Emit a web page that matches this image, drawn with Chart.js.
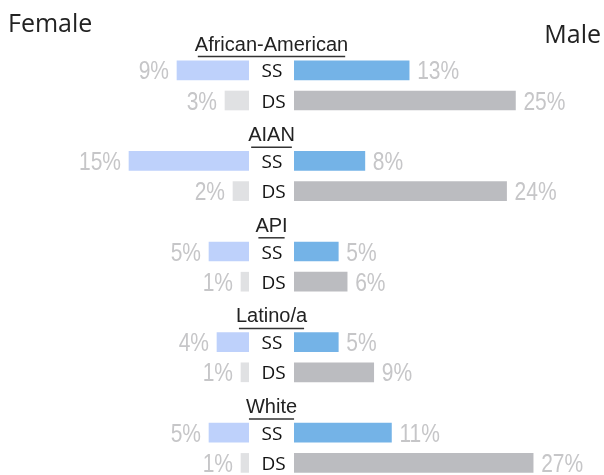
<!DOCTYPE html>
<html>
<head>
<meta charset="utf-8">
<script src="https://cdn.jsdelivr.net/npm/chart.js@4"></script>
<style>
  html, body { margin: 0; padding: 0; background: #fff; overflow: hidden; }
  #chart { display: block; }
</style>
</head>
<body>
<canvas id="chart" width="604" height="478"></canvas>
<script>
// groups and values (percent)
const groups = ["African-American", "AIAN", "API", "Latino/a", "White"];
const rowTypes = ["SS", "DS"];
const femaleSS = [9, 15, 5, 4, 5];
const femaleDS = [3, 2, 1, 1, 1];
const maleSS = [13, 8, 5, 5, 11];
const maleDS = [25, 24, 6, 9, 27];

// each group = title row + SS row + DS row
const labels = [];
groups.forEach((g) => {
  labels.push(g);
  rowTypes.forEach((t) => labels.push(g + " " + t));
});

function spread(values, rowIndex) {
  // put value of each group in its SS (1) or DS (2) row, null elsewhere
  const out = [];
  values.forEach((v) => {
    for (let k = 0; k < 3; k++) out.push(k === rowIndex ? v : null);
  });
  return out;
}

// condensed look for the % labels (no narrow font installed)
function narrowText(ctx, text, x, y, align) {
  ctx.save();
  ctx.translate(x, y);
  ctx.scale(0.84, 1);
  ctx.textAlign = align;
  ctx.fillText(text, 0, 0);
  ctx.restore();
}

const sidePlugin = {
  id: "sideLabels",
  afterDatasetsDraw(chart) {
    const ctx = chart.ctx;
    const y = chart.scales.y;
    const gap = chart.scales.xGap;
    const mid = gap.left + gap.width / 2;
    ctx.save();

    // Female / Male headers
    ctx.fillStyle = "#222";
    ctx.font = "25px 'Open Sans', sans-serif";
    ctx.textAlign = "left";
    ctx.textBaseline = "alphabetic";
    ctx.fillText("Female", 8, 32);
    ctx.textAlign = "right";
    ctx.fillText("Male", chart.width - 3, 43);

    // group titles with underline
    ctx.font = "20px 'Liberation Sans', Arial, sans-serif";
    ctx.textAlign = "center";
    groups.forEach((g, i) => {
      const cy = y.getPixelForValue(i * 3);
      const base = cy + 10.5;
      ctx.fillStyle = "#222";
      ctx.fillText(g, mid, base);
      const w = ctx.measureText(g).width;
      ctx.strokeStyle = "#333";
      ctx.lineWidth = 1.5;
      ctx.beginPath();
      ctx.moveTo(mid - w / 2 + 3, base + 6);
      ctx.lineTo(mid + w / 2 - 3, base + 6);
      ctx.stroke();
    });

    // SS / DS labels
    ctx.font = "19px 'Open Sans', sans-serif";
    ctx.textAlign = "left";
    ctx.fillStyle = "#111";
    groups.forEach((g, i) => {
      rowTypes.forEach((t, k) => {
        const cy = y.getPixelForValue(i * 3 + k + 1);
        ctx.fillText(t, mid - 10, cy + 7);
      });
    });

    // value labels
    ctx.font = "25px 'Liberation Sans', Arial, sans-serif";
    ctx.fillStyle = "#c6c6c8";
    chart.data.datasets.forEach((ds, di) => {
      const meta = chart.getDatasetMeta(di);
      meta.data.forEach((bar, j) => {
        const v = ds.data[j];
        if (v === null) return;
        const left = Math.min(bar.x, bar.base);
        const right = Math.max(bar.x, bar.base);
        if (ds.side === "F") {
          narrowText(ctx, v + "%", left - 8, bar.y + 9, "right");
        } else {
          narrowText(ctx, v + "%", right + 8, bar.y + 9, "left");
        }
      });
    });
    ctx.restore();
  },
};

const ctx = document.getElementById("chart").getContext("2d");
const chart = new Chart(ctx, {
  type: "bar",
  data: {
    labels: labels,
    datasets: [
      { side: "F", data: spread(femaleSS, 1), backgroundColor: "#bed1fb", xAxisID: "xF" },
      { side: "F", data: spread(femaleDS, 2), backgroundColor: "#e0e1e3", xAxisID: "xF" },
      { side: "M", data: spread(maleSS, 1), backgroundColor: "#74b3e7", xAxisID: "xM" },
      { side: "M", data: spread(maleDS, 2), backgroundColor: "#bbbcc0", xAxisID: "xM" },
    ],
  },
  options: {
    indexAxis: "y",
    responsive: false,
    animation: false,
    events: [],
    layout: { padding: { left: 9, top: 25, right: 0, bottom: 0 } },
    datasets: { bar: { grouped: false, barThickness: 19, borderWidth: 0 } },
    scales: {
      y: { type: "category", display: false },
      xF: { type: "linear", position: "bottom", display: false, reverse: true, min: 0, max: 30, stack: "x", stackWeight: 240 },
      xGap: { type: "linear", position: "bottom", display: false, min: 0, max: 1, stack: "x", stackWeight: 45 },
      xM: { type: "linear", position: "bottom", display: false, min: 0, max: 35, stack: "x", stackWeight: 310 },
    },
    plugins: {
      legend: { display: false },
      tooltip: { enabled: false },
    },
  },
  plugins: [sidePlugin],
});
</script>
</body>
</html>
